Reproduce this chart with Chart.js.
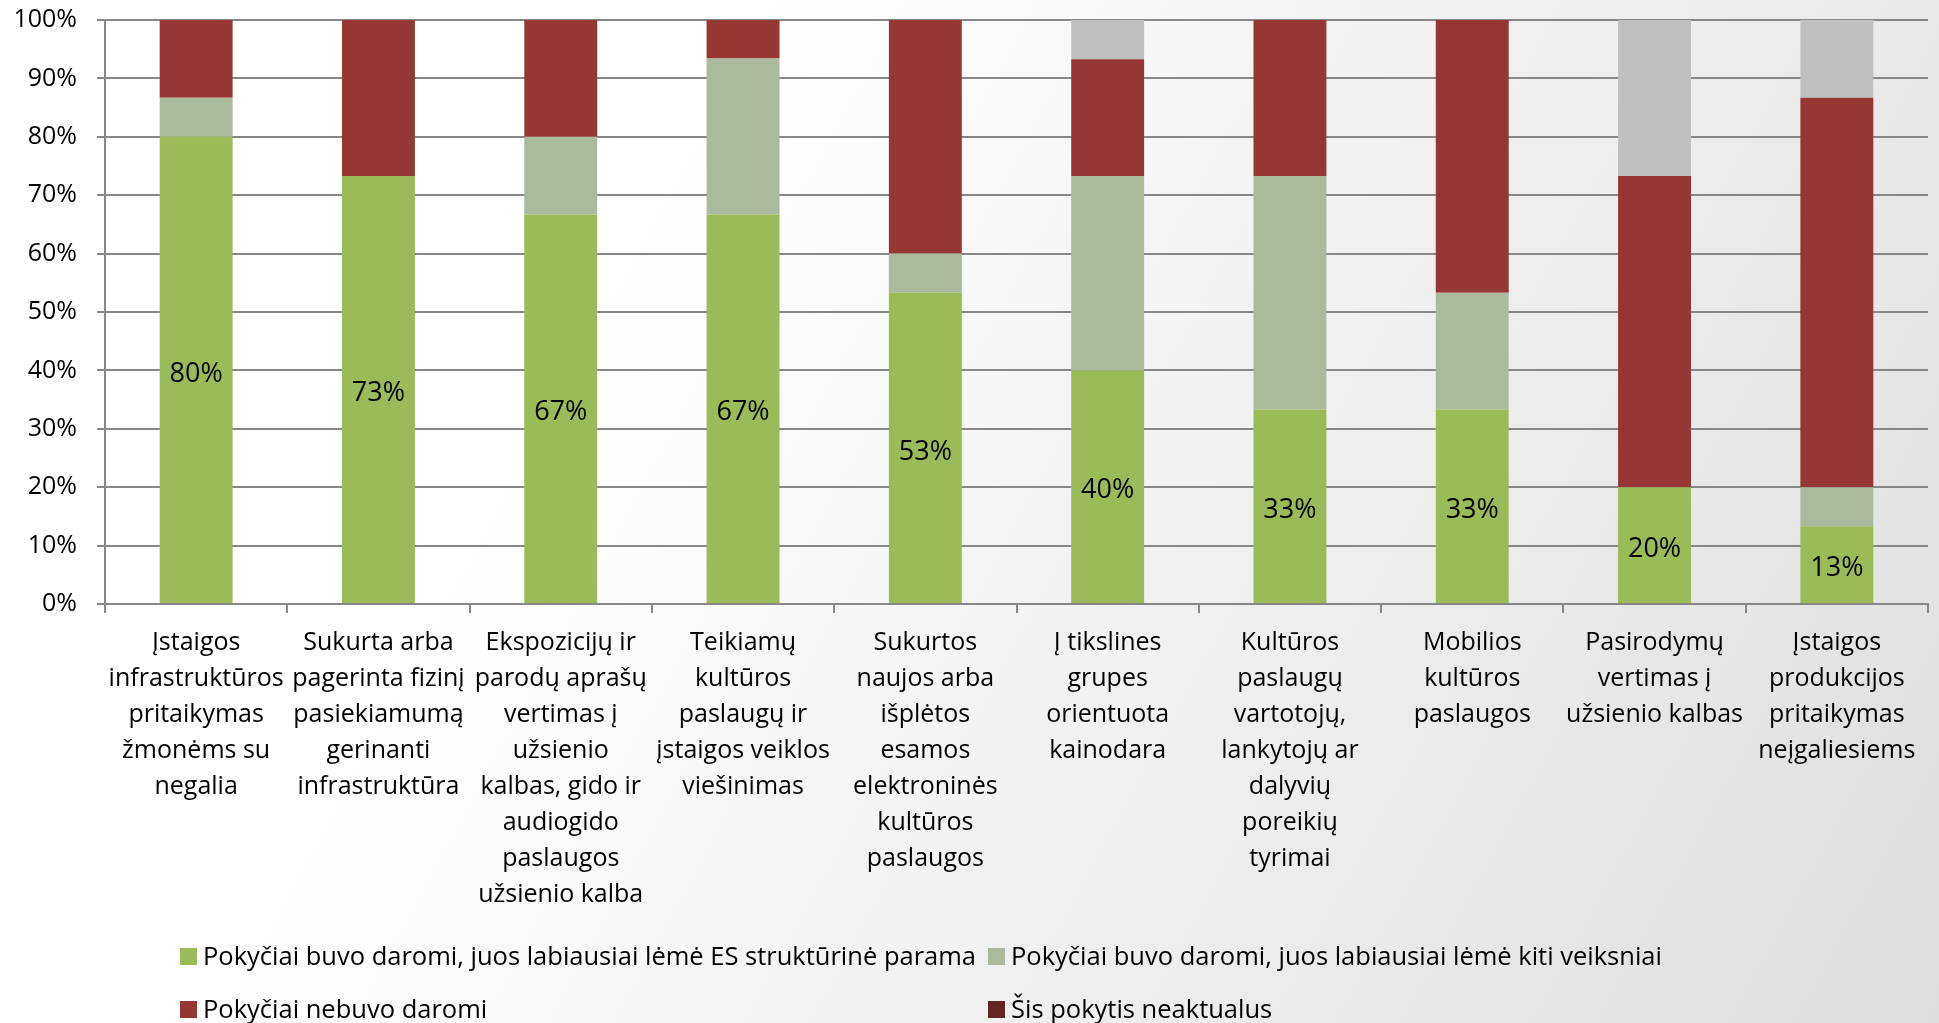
<!DOCTYPE html>
<html><head><meta charset="utf-8">
<script src="https://cdn.jsdelivr.net/npm/chart.js@4"></script>
<style>html,body{margin:0;padding:0;background:#fff}#wrap{width:1939px;height:1023px;position:relative}</style>
</head><body><div id="wrap"><canvas id="c"></canvas></div>
<script>
// ---- data ----
const categories = [
  ['Įstaigos','infrastruktūros','pritaikymas','žmonėms su','negalia'],
  ['Sukurta arba','pagerinta fizinį','pasiekiamumą','gerinanti','infrastruktūra'],
  ['Ekspozicijų ir','parodų aprašų','vertimas į','užsienio','kalbas, gido ir','audiogido','paslaugos','užsienio kalba'],
  ['Teikiamų','kultūros','paslaugų ir','įstaigos veiklos','viešinimas'],
  ['Sukurtos','naujos arba','išplėtos','esamos','elektroninės','kultūros','paslaugos'],
  ['Į tikslines','grupes','orientuota','kainodara'],
  ['Kultūros','paslaugų','vartotojų,','lankytojų ar','dalyvių','poreikių','tyrimai'],
  ['Mobilios','kultūros','paslaugos'],
  ['Pasirodymų','vertimas į','užsienio kalbas'],
  ['Įstaigos','produkcijos','pritaikymas','neįgaliesiems']
];
const seriesNames = [
  'Pokyčiai buvo daromi, juos labiausiai lėmė ES struktūrinė parama',
  'Pokyčiai buvo daromi, juos labiausiai lėmė kiti veiksniai',
  'Pokyčiai nebuvo daromi',
  'Šis pokytis neaktualus'
];
const esSupport    = [80, 73.3, 66.7, 66.7, 53.3, 40, 33.3, 33.3, 20, 13.3];
const otherFactors = [6.7, 0, 13.3, 26.7, 6.7, 33.3, 40, 20, 0, 6.7];
const noChanges    = [13.3, 26.7, 20, 6.6, 40, 20, 26.7, 46.7, 53.3, 66.7];
const notRelevant  = [0, 0, 0, 0, 0, 6.7, 0, 0, 26.7, 13.3];
const yTickValues  = [0, 10, 20, 30, 40, 50, 60, 70, 80, 90, 100];

// ---- styles ----
const FONT = "'Open Sans', sans-serif";
const barColors = ['#9bbb59', '#abb99d', '#953735', '#bfbfbf'];
const legendColors = ['#9bbb59', '#abb99d', '#953735', '#632523'];
const gridColor = '#878787';

const bgPlugin = {
  id: 'bg',
  beforeDraw(chart) {
    const {ctx, width, height} = chart;
    const g = ctx.createLinearGradient(width * 0.31, height * 0.29, width, height);
    g.addColorStop(0, '#ffffff');
    g.addColorStop(1, '#dedede');
    ctx.save();
    ctx.fillStyle = g;
    ctx.fillRect(0, 0, width, height);
    ctx.restore();
  }
};

const labelPlugin = {
  id: 'valueLabels',
  afterDatasetsDraw(chart) {
    const ctx = chart.ctx;
    const meta = chart.getDatasetMeta(0);
    const data = chart.data.datasets[0].data;
    ctx.save();
    ctx.font = '27px ' + FONT;
    ctx.fillStyle = '#000';
    ctx.textAlign = 'center';
    ctx.textBaseline = 'middle';
    meta.data.forEach((bar, i) => {
      const p = bar.getProps(['x', 'y', 'base'], true);
      ctx.fillText(Math.round(data[i]) + '%', p.x, (p.y + p.base) / 2 + 4);
    });
    ctx.restore();
  }
};

const legendPlugin = {
  id: 'gridLegend',
  afterDraw(chart) {
    const ctx = chart.ctx;
    const H = chart.height;
    const cols = [180, 988];
    const rows = [H - 66.5, H - 13.5];
    const box = 17;
    ctx.save();
    ctx.font = '25.5px ' + FONT;
    ctx.textBaseline = 'middle';
    ctx.textAlign = 'left';
    chart.data.datasets.forEach((ds, i) => {
      const x = cols[i % 2], y = rows[Math.floor(i / 2)];
      ctx.fillStyle = ds.legendColor;
      ctx.fillRect(x, y - box / 2, box, box);
      ctx.fillStyle = '#000';
      ctx.fillText(ds.label, x + box + 6, y + 1);
    });
    ctx.restore();
  }
};

const datasets = [esSupport, otherFactors, noChanges, notRelevant].map((d, i) => ({
  label: seriesNames[i],
  data: d,
  backgroundColor: barColors[i],
  legendColor: legendColors[i],
  borderWidth: 0
}));

new Chart(document.getElementById('c'), {
  type: 'bar',
  data: { labels: categories, datasets },
  plugins: [bgPlugin, labelPlugin, legendPlugin],
  options: {
    responsive: true,
    maintainAspectRatio: false,
    animation: false,
    layout: { padding: { top: 20, right: 11, left: 0, bottom: 0 } },
    datasets: { bar: { categoryPercentage: 1.0, barPercentage: 0.4 } },
    plugins: { legend: { display: false }, tooltip: { enabled: false } },
    scales: {
      x: {
        stacked: true,
        grid: { display: true, drawOnChartArea: false, drawTicks: true, tickLength: 9, color: gridColor, lineWidth: 2, offset: true },
        border: { display: true, color: gridColor, width: 2 },
        ticks: { color: '#000', font: { family: FONT, size: 25, lineHeight: 1.44 }, padding: 12, maxRotation: 0, autoSkip: false },
        afterFit(s) { s.height = 419; s.paddingTop = 0; s.paddingBottom = 0; }
      },
      y: {
        stacked: true,
        min: 0, max: 100,
        afterBuildTicks(s) { s.ticks = yTickValues.map(v => ({ value: v })); },
        grid: { color: gridColor, lineWidth: 2, tickLength: 8, drawTicks: true },
        border: { display: true, color: gridColor, width: 2 },
        ticks: { color: '#000', font: { family: FONT, size: 25 }, padding: 20, callback: v => v + '%' },
        afterFit(s) { s.width = 105; s.paddingTop = 0; s.paddingBottom = 0; }
      }
    }
  }
});
</script>
</body></html>
